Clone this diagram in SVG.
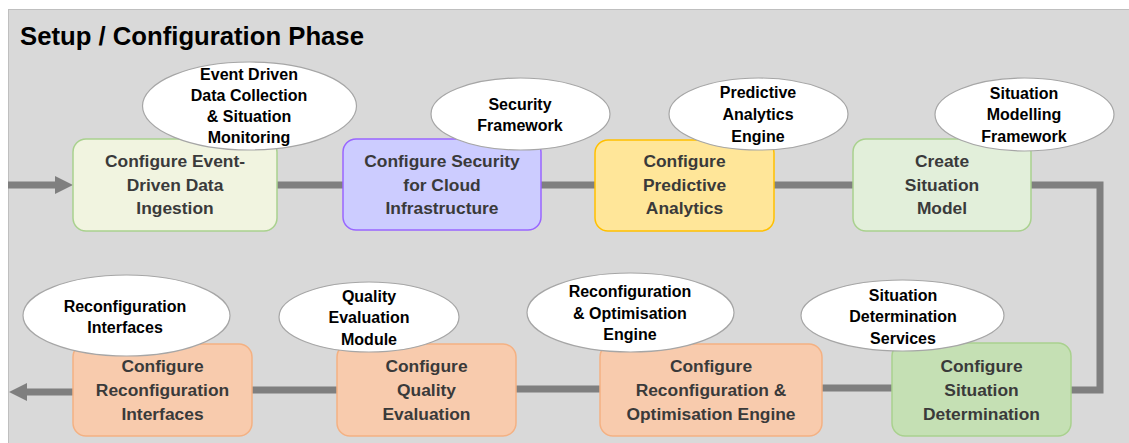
<svg xmlns="http://www.w3.org/2000/svg" width="1129" height="443" viewBox="0 0 1129 443">
<style>
.node{stroke-width:1.5}
.ntext{font-family:"Liberation Sans",Arial,sans-serif;font-weight:bold;font-size:17.4px;fill:#3a3a3a;text-anchor:middle}
.etext{font-family:"Liberation Sans",Arial,sans-serif;font-weight:bold;font-size:16px;fill:#000;text-anchor:middle}
.ell{fill:#fff;stroke:#a6a6a6;stroke-width:1.2}
.conn{fill:none;stroke:#7f7f7f;stroke-width:7}
.orange{fill:#f8cbad;stroke:#f4b183}
</style>
<defs>
<marker id="ah" markerUnits="userSpaceOnUse" markerWidth="18" markerHeight="18" refX="0" refY="9" orient="auto">
<path d="M0,0 L18,9 L0,18 z" fill="#7f7f7f"/>
</marker>
</defs>
<rect x="8.5" y="9.5" width="1125" height="440" fill="#d9d9d9" stroke="#bfbfbf" stroke-width="1"/>
<text x="20" y="45" font-family="'Liberation Sans',Arial,sans-serif" font-weight="bold" font-size="25.7" fill="#000">Setup / Configuration Phase</text>

<g id="connectors">
<line class="conn" x1="8" y1="185" x2="55" y2="185" marker-end="url(#ah)"/>
<line class="conn" x1="277" y1="185" x2="343" y2="185"/>
<line class="conn" x1="541" y1="185" x2="595" y2="185"/>
<line class="conn" x1="774" y1="185" x2="853" y2="185"/>
<path class="conn" d="M1031,185 H1100 V390 H1071"/>
<line class="conn" x1="892" y1="388" x2="822" y2="388"/>
<line class="conn" x1="600" y1="389" x2="516" y2="389"/>
<line class="conn" x1="337" y1="390" x2="252" y2="390"/>
<line class="conn" x1="73" y1="392" x2="27" y2="392" marker-end="url(#ah)"/>
</g>

<g id="node-ingestion">
<rect class="node" x="73" y="139" width="204" height="92" rx="13" fill="#f1f4e0" stroke="#a9d18e"/>
<text class="ntext" x="175" y="167">Configure Event-</text>
<text class="ntext" x="175" y="190.5">Driven Data</text>
<text class="ntext" x="175" y="214">Ingestion</text>
</g>
<g id="node-security">
<rect class="node" x="343" y="139" width="198" height="91" rx="13" fill="#ccccff" stroke="#9966ff"/>
<text class="ntext" x="442" y="167">Configure Security</text>
<text class="ntext" x="442" y="190.5">for Cloud</text>
<text class="ntext" x="442" y="214">Infrastructure</text>
</g>
<g id="node-predictive">
<rect class="node" x="595" y="140" width="179" height="91" rx="13" fill="#ffe699" stroke="#ffc000"/>
<text class="ntext" x="684.5" y="167">Configure</text>
<text class="ntext" x="684.5" y="190.5">Predictive</text>
<text class="ntext" x="684.5" y="214">Analytics</text>
</g>
<g id="node-situation-model">
<rect class="node" x="853" y="139" width="178" height="92" rx="13" fill="#e2efda" stroke="#a9d18e"/>
<text class="ntext" x="942" y="167">Create</text>
<text class="ntext" x="942" y="190.5">Situation</text>
<text class="ntext" x="942" y="214">Model</text>
</g>
<g id="node-reconf-interfaces">
<rect class="node orange" x="73" y="344" width="179" height="92" rx="13"/>
<text class="ntext" x="162.5" y="372">Configure</text>
<text class="ntext" x="162.5" y="396">Reconfiguration</text>
<text class="ntext" x="162.5" y="420">Interfaces</text>
</g>
<g id="node-quality">
<rect class="node orange" x="337" y="344" width="179" height="92" rx="13"/>
<text class="ntext" x="426.5" y="372">Configure</text>
<text class="ntext" x="426.5" y="396">Quality</text>
<text class="ntext" x="426.5" y="420">Evaluation</text>
</g>
<g id="node-reconf-opt">
<rect class="node orange" x="600" y="344" width="222" height="92" rx="13"/>
<text class="ntext" x="711" y="372">Configure</text>
<text class="ntext" x="711" y="396">Reconfiguration &amp;</text>
<text class="ntext" x="711" y="420">Optimisation Engine</text>
</g>
<g id="node-situation-det">
<rect class="node" x="892" y="343" width="179" height="93" rx="13" fill="#c5e0b4" stroke="#a9d18e"/>
<text class="ntext" x="981.5" y="372">Configure</text>
<text class="ntext" x="981.5" y="396">Situation</text>
<text class="ntext" x="981.5" y="420">Determination</text>
</g>

<g id="ell-event">
<ellipse class="ell" cx="249.5" cy="106" rx="107" ry="44"/>
<text class="etext" x="249" y="80">Event Driven</text>
<text class="etext" x="249" y="101">Data Collection</text>
<text class="etext" x="249" y="122">&amp; Situation</text>
<text class="etext" x="249" y="143">Monitoring</text>
</g>
<g id="ell-security">
<ellipse class="ell" cx="520.5" cy="114" rx="89.5" ry="36"/>
<text class="etext" x="520" y="110">Security</text>
<text class="etext" x="520" y="131">Framework</text>
</g>
<g id="ell-predictive">
<ellipse class="ell" cx="758.5" cy="114" rx="89.5" ry="36"/>
<text class="etext" x="758" y="98">Predictive</text>
<text class="etext" x="758" y="120">Analytics</text>
<text class="etext" x="758" y="142">Engine</text>
</g>
<g id="ell-situation-model">
<ellipse class="ell" cx="1024.5" cy="114.5" rx="89.5" ry="36.5"/>
<text class="etext" x="1024" y="99">Situation</text>
<text class="etext" x="1024" y="120">Modelling</text>
<text class="etext" x="1024" y="142">Framework</text>
</g>
<g id="ell-reconf-interfaces">
<ellipse class="ell" cx="126.5" cy="315.5" rx="103.5" ry="40.5"/>
<text class="etext" x="125" y="312">Reconfiguration</text>
<text class="etext" x="125" y="333">Interfaces</text>
</g>
<g id="ell-quality">
<ellipse class="ell" cx="369" cy="317" rx="90" ry="35"/>
<text class="etext" x="369" y="302">Quality</text>
<text class="etext" x="369" y="323">Evaluation</text>
<text class="etext" x="369" y="345">Module</text>
</g>
<g id="ell-reconf-opt">
<ellipse class="ell" cx="630.5" cy="312.5" rx="103.5" ry="39.5"/>
<text class="etext" x="630" y="297">Reconfiguration</text>
<text class="etext" x="630" y="319">&amp; Optimisation</text>
<text class="etext" x="630" y="340">Engine</text>
</g>
<g id="ell-situation-det">
<ellipse class="ell" cx="902.5" cy="315.5" rx="101.5" ry="35.5"/>
<text class="etext" x="903" y="301">Situation</text>
<text class="etext" x="903" y="322">Determination</text>
<text class="etext" x="903" y="344">Services</text>
</g>
</svg>
